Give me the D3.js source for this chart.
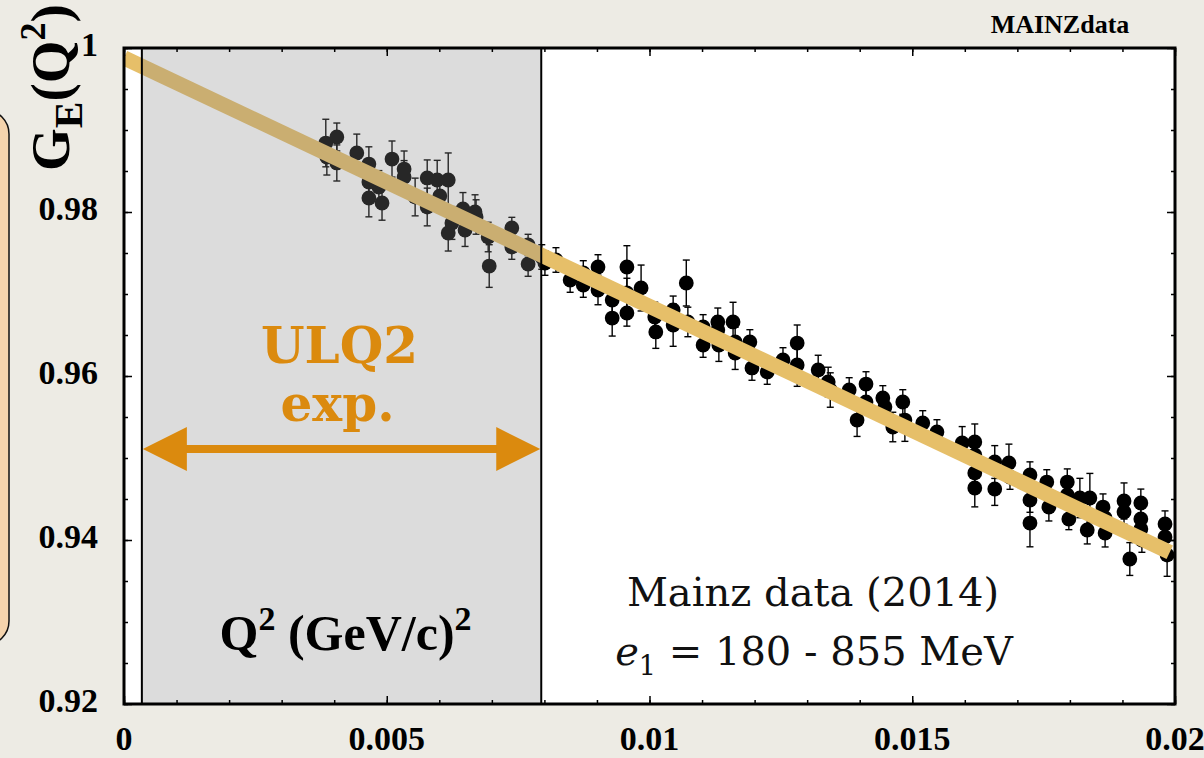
<!DOCTYPE html>
<html>
<head>
<meta charset="utf-8">
<script src="https://cdn.jsdelivr.net/npm/d3@7"></script>
<style>
  body { margin: 0; background: #EDEBE4; }
  svg { display: block; }
</style>
</head>
<body>
<svg id="chart" width="1204" height="758"></svg>
<script>
// Mainz electric form factor data (2014), low-Q^2 region
const q2 = [
  0.00384,0.00405,0.00386,0.00405,0.00443,0.00466,0.00466,0.00466,0.00491,0.00485,
  0.00510,0.00533,0.00533,0.00554,0.00577,0.00577,0.00596,0.00617,0.00601,0.00624,
  0.00617,0.00645,0.00649,0.00668,0.00670,0.00693,0.00695,0.00738,0.00738,0.00769,
  0.00769,0.00795,
  0.00801,0.00822,0.00849,0.00874,0.00874,0.00902,0.00902,0.00929,0.00929,0.00957,
  0.00957,0.00957,0.00984,0.01010,0.01012,0.01045,0.01045,0.01070,0.01073,0.01102,
  0.01102,0.01130,0.01130,0.01132,0.01159,0.01163,0.01163,0.01191,0.01195,0.01224,
  0.01254,0.01281,0.01281,0.01321,0.01340,0.01344,0.01380,0.01395,0.01412,0.01412,
  0.01444,0.01448,0.01463,0.01482,0.01486,0.01520,0.01547,0.01595,0.01619,0.01619,
  0.01619,0.01619,0.01657,0.01657,0.01684,0.01686,0.01724,0.01724,0.01724,0.01756,
  0.01760,0.01795,0.01795,0.01798,0.01819,0.01838,0.01833,0.01863,0.01867,0.01867,
  0.01903,0.01903,0.01914,0.01935,0.01935,0.01935,0.01937,0.01981,0.01981,0.01985
];
const ge = [
  0.98841,0.98915,0.98671,0.98598,0.98720,0.98585,0.98366,0.98171,0.98110,0.98305,
  0.98646,0.98524,0.98427,0.98183,0.98415,0.98061,0.98390,0.98390,0.98195,0.97866,
  0.97744,0.98037,0.97780,0.98000,0.97939,0.97695,0.97341,0.97805,0.97573,0.97598,
  0.97366,0.97451,
  0.97378,0.97415,0.97171,0.97256,0.97110,0.97329,0.97049,0.96927,0.96707,0.97329,
  0.96768,0.97012,0.97073,0.96720,0.96537,0.96805,0.96622,0.97134,0.96659,0.96598,
  0.96378,0.96659,0.96561,0.96378,0.96659,0.96415,0.96280,0.96415,0.96098,0.96049,
  0.96195,0.96402,0.96134,0.96073,0.95927,0.95829,0.95829,0.95463,0.95902,0.95683,
  0.95732,0.95622,0.95378,0.95683,0.95463,0.95427,0.95317,0.95183,0.95195,0.95037,
  0.94817,0.94634,0.94951,0.94622,0.94939,0.94768,0.94793,0.94488,0.94207,0.94707,
  0.94402,0.94707,0.94549,0.94256,0.94512,0.94512,0.94122,0.94402,0.94268,0.94085,
  0.94476,0.94341,0.93768,0.94451,0.94256,0.94134,0.94000,0.94195,0.94037,0.93817
];
const geErr = [
  0.0029,0.0017,0.0022,0.0022,0.0023,0.0021,0.0020,0.0023,0.0021,0.0020,
  0.0022,0.0022,0.0020,0.0023,0.0022,0.0023,0.0024,0.0033,0.0020,0.0020,
  0.0022,0.0020,0.0020,0.0021,0.0021,0.0018,0.0026,0.0013,0.0015,0.0013,
  0.0015,0.0015,
  0.0015,0.0015,0.0015,0.0015,0.0015,0.0015,0.0018,0.0018,0.0022,0.0026,
  0.0016,0.0018,0.0028,0.0018,0.0020,0.0017,0.0026,0.0028,0.0018,0.0015,
  0.0015,0.0017,0.0017,0.0020,0.0024,0.0018,0.0020,0.0015,0.0015,0.0015,
  0.0015,0.0022,0.0026,0.0018,0.0018,0.0021,0.0015,0.0020,0.0015,0.0015,
  0.0015,0.0015,0.0018,0.0015,0.0026,0.0015,0.0015,0.0020,0.0022,0.0015,
  0.0015,0.0023,0.0020,0.0020,0.0023,0.0015,0.0016,0.0015,0.0029,0.0015,
  0.0017,0.0016,0.0015,0.0013,0.0024,0.0030,0.0017,0.0016,0.0015,0.0017,
  0.0022,0.0015,0.0020,0.0017,0.0015,0.0015,0.0015,0.0016,0.0015,0.0026
];

// Fitted curve
const fitQ2 = [0, 0.0199];
const fitGE = [0.9988, 0.9385];

// Axis ticks
const xTickValues = [0, 0.005, 0.01, 0.015, 0.02];
const xTickLabels = ["0", "0.005", "0.01", "0.015", "0.02"];
const yTickValues = [0.92, 0.94, 0.96, 0.98, 1];
const yTickLabels = ["0.92", "0.94", "0.96", "0.98", "1"];

// Q^2 range covered by the ULQ2 experiment
const ulq2Range = [0.00034, 0.00794];

const svg = d3.select("#chart");
const W = 1204, H = 758;
const plot = { left: 124, right: 1175, top: 48, bottom: 704 };

const x = d3.scaleLinear().domain([0, 0.02]).range([plot.left, plot.right]);
const y = d3.scaleLinear().domain([0.92, 1]).range([plot.bottom, plot.top]);

const serif = "'Liberation Serif', 'Times New Roman', serif";
const wideSerif = "'DejaVu Serif', serif";

svg.append("rect").attr("width", W).attr("height", H).attr("fill", "#EDEBE4");

// rounded panel peeking in from the left edge
svg.append("rect")
  .attr("x", -40).attr("y", 110).attr("width", 49).attr("height", 535)
  .attr("rx", 24).attr("ry", 24)
  .attr("fill", "#F5D4AD").attr("stroke", "#111").attr("stroke-width", 1.5);

svg.append("defs").append("clipPath").attr("id", "plotClip")
  .append("rect")
  .attr("x", plot.left).attr("y", plot.top)
  .attr("width", plot.right - plot.left).attr("height", plot.bottom - plot.top);

svg.append("rect")
  .attr("x", plot.left).attr("y", plot.top)
  .attr("width", plot.right - plot.left).attr("height", plot.bottom - plot.top)
  .attr("fill", "#fff");

const points = q2.map((q, i) => ({ q, g: ge[i], e: geErr[i] }));

const dataG = svg.append("g").attr("clip-path", "url(#plotClip)");
const capW = 3.5;

const bars = dataG.append("g").attr("stroke", "#000").attr("stroke-width", 1.4);
bars.selectAll("g").data(points).join("g").each(function (d) {
  const g = d3.select(this);
  const cx = x(d.q), y0 = y(d.g - d.e), y1 = y(d.g + d.e);
  g.append("line").attr("x1", cx).attr("x2", cx).attr("y1", y0).attr("y2", y1);
  g.append("line").attr("x1", cx - capW).attr("x2", cx + capW).attr("y1", y0).attr("y2", y0);
  g.append("line").attr("x1", cx - capW).attr("x2", cx + capW).attr("y1", y1).attr("y2", y1);
});

dataG.append("g").selectAll("circle").data(points).join("circle")
  .attr("cx", d => x(d.q)).attr("cy", d => y(d.g)).attr("r", 7.4)
  .attr("fill", "#000");

// fit band
const fitPts = fitQ2.map((q, i) => [x(q), y(fitGE[i])]);
dataG.append("path")
  .attr("d", d3.line()(fitPts))
  .attr("stroke", "#E6BF69").attr("stroke-width", 15)
  .attr("stroke-linecap", "butt").attr("fill", "none");

// shaded ULQ2 region
const rx0 = x(ulq2Range[0]), rx1 = x(ulq2Range[1]);
svg.append("rect")
  .attr("x", rx0).attr("y", plot.top)
  .attr("width", rx1 - rx0).attr("height", plot.bottom - plot.top)
  .attr("fill", "#888").attr("fill-opacity", 0.29);
svg.append("g").attr("stroke", "#000").attr("stroke-width", 2)
  .selectAll("line").data([rx0, rx1]).join("line")
  .attr("x1", d => d).attr("x2", d => d)
  .attr("y1", plot.top).attr("y2", plot.bottom);

// ticks: minor and major, inward on all four sides
const xMinor = d3.range(0, 0.02001, 0.001);
const yMinor = d3.range(0.92, 1.0001, 0.005);
function tickAxis(axisFn, scale, values, size, transform) {
  svg.append("g").attr("transform", transform)
    .call(axisFn(scale).tickValues(values).tickSize(size).tickFormat(""))
    .call(g => g.select(".domain").remove())
    .call(g => g.selectAll("line").attr("stroke", "#000").attr("stroke-width", 1.5));
}
tickAxis(d3.axisBottom, x, xMinor, -4, `translate(0,${plot.bottom})`);
tickAxis(d3.axisBottom, x, xTickValues, -8, `translate(0,${plot.bottom})`);
tickAxis(d3.axisTop, x, xMinor, -4, `translate(0,${plot.top})`);
tickAxis(d3.axisTop, x, xTickValues, -8, `translate(0,${plot.top})`);
tickAxis(d3.axisLeft, y, yMinor, -4, `translate(${plot.left},0)`);
tickAxis(d3.axisLeft, y, yTickValues, -8, `translate(${plot.left},0)`);
tickAxis(d3.axisRight, y, yMinor, -4, `translate(${plot.right},0)`);
tickAxis(d3.axisRight, y, yTickValues, -8, `translate(${plot.right},0)`);

// frame
svg.append("rect")
  .attr("x", plot.left).attr("y", plot.top)
  .attr("width", plot.right - plot.left).attr("height", plot.bottom - plot.top)
  .attr("fill", "none").attr("stroke", "#000").attr("stroke-width", 3);

// tick labels
svg.append("g").selectAll("text").data(xTickValues).join("text")
  .attr("x", d => x(d)).attr("y", 750)
  .attr("text-anchor", "middle")
  .attr("font-family", serif).attr("font-weight", "bold").attr("font-size", 34)
  .text((d, i) => xTickLabels[i]);

svg.append("g").selectAll("text").data(yTickValues).join("text")
  .attr("x", 98).attr("y", d => y(d) + 8)
  .attr("text-anchor", "end")
  .attr("font-family", serif).attr("font-weight", "bold").attr("font-size", 34)
  .text((d, i) => yTickLabels[i]);

// y-axis title G_E(Q^2)
const yt = svg.append("text")
  .attr("transform", "translate(69,171) rotate(-90)")
  .attr("font-family", serif).attr("font-weight", "bold").attr("font-size", 55);
yt.append("tspan").text("G");
yt.append("tspan").attr("font-size", 40).attr("dy", 13).text("E");
yt.append("tspan").attr("dy", -13).text("(Q");
yt.append("tspan").attr("font-size", 36).attr("dy", -24).text("2");
yt.append("tspan").attr("dy", 24).text(")");

// corner tag
svg.append("text")
  .attr("x", 1060).attr("y", 33).attr("text-anchor", "middle")
  .attr("font-family", serif).attr("font-weight", "bold").attr("font-size", 26)
  .text("MAINZdata");

// ULQ2 annotation
const orange = "#DB8A0E";
const midX = (rx0 + rx1) / 2;
svg.append("text").attr("x", midX - 2).attr("y", 363).attr("text-anchor", "middle")
  .attr("font-family", wideSerif).attr("font-weight", "bold").attr("font-size", 50)
  .attr("fill", orange).text("ULQ2");
svg.append("text").attr("x", midX - 4).attr("y", 421).attr("text-anchor", "middle")
  .attr("font-family", wideSerif).attr("font-weight", "bold").attr("font-size", 50)
  .attr("fill", orange).text("exp.");

const ay = 449, headL = 45, headH = 22;
svg.append("line")
  .attr("x1", rx0 + headL - 2).attr("x2", rx1 - headL + 2)
  .attr("y1", ay).attr("y2", ay)
  .attr("stroke", orange).attr("stroke-width", 8);
svg.append("path")
  .attr("d", `M${rx0 + 1},${ay} L${rx0 + headL},${ay - headH} L${rx0 + headL},${ay + headH} Z`
           + ` M${rx1 - 1},${ay} L${rx1 - headL},${ay - headH} L${rx1 - headL},${ay + headH} Z`)
  .attr("fill", orange);

// x-axis title inside the shaded band
const xt = svg.append("text")
  .attr("x", midX + 4).attr("y", 650).attr("text-anchor", "middle")
  .attr("font-family", serif).attr("font-weight", "bold").attr("font-size", 50);
xt.append("tspan").text("Q");
xt.append("tspan").attr("font-size", 34).attr("dy", -20).text("2");
xt.append("tspan").attr("dy", 20).text(" (GeV/c)");
xt.append("tspan").attr("font-size", 34).attr("dy", -20).text("2");

// data set description
svg.append("text")
  .attr("x", 813).attr("y", 606).attr("text-anchor", "middle")
  .attr("font-family", wideSerif).attr("font-size", 40).attr("fill", "#111")
  .text("Mainz data (2014)");
const e1 = svg.append("text")
  .attr("x", 814).attr("y", 665).attr("text-anchor", "middle")
  .attr("font-family", wideSerif).attr("font-size", 40).attr("fill", "#111");
e1.append("tspan").attr("font-style", "italic").text("e");
e1.append("tspan").attr("font-size", 27).attr("dy", 10).text("1");
e1.append("tspan").attr("dy", -10).text(" = 180 - 855 MeV");
</script>
</body>
</html>
